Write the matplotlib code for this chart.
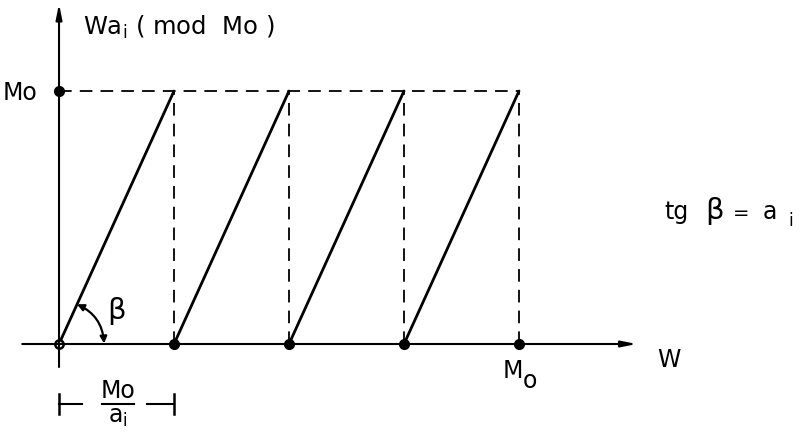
import matplotlib.pyplot as plt
from matplotlib.patches import FancyArrowPatch

# sawtooth W*a_i (mod Mo): Mo normalised to 1, a_i = 4
Mo = 1.0
a_i = 4.0
step = Mo / a_i
breaks = [0.0, 0.25, 0.50, 0.75, 1.00]     # multiples of Mo/a_i along W

fig = plt.figure(figsize=(7.99, 4.32), dpi=100)
ax = fig.add_axes([0, 0, 1, 1])
ax.set_xlim(-0.1283, 1.6087)
ax.set_ylim(-0.3478, 1.3597)
ax.axis('off')

ink = '#000000'
fs = 17

# axes with arrow heads
ax.annotate('', xy=(1.256, 0), xytext=(-0.080, 0),
            arrowprops=dict(arrowstyle='-|>,head_length=0.9,head_width=0.18',
                            color=ink, lw=1.5, shrinkA=0, shrinkB=0))
ax.annotate('', xy=(0, 1.345), xytext=(0, -0.091),
            arrowprops=dict(arrowstyle='-|>,head_length=0.9,head_width=0.18',
                            color=ink, lw=1.5, shrinkA=0, shrinkB=0))

# ramps and dashed guides
for k in range(len(breaks) - 1):
    ax.plot([breaks[k], breaks[k + 1]], [0, Mo], color=ink, lw=2.0,
            solid_capstyle='round')
    ax.plot([breaks[k + 1], breaks[k + 1]], [0, Mo], color=ink, lw=1.3,
            dashes=(7, 4.5))
ax.plot([breaks[0], breaks[-1]], [Mo, Mo], color=ink, lw=1.3, dashes=(7, 4.5))

# points
ax.plot(breaks[1:], [0] * (len(breaks) - 1), 'o', color=ink, ms=7)
ax.plot([0], [Mo], 'o', color=ink, ms=7)
ax.plot([0], [0], 'o', mfc='white', mec=ink, mew=1.8, ms=6)

# angle beta
arc = FancyArrowPatch((0.0391, 0.157), (0.098, 0.002),
                      connectionstyle='arc3,rad=-0.29',
                      arrowstyle='<|-|>,head_length=4,head_width=2',
                      color=ink, lw=1.6, shrinkA=0, shrinkB=0)
ax.add_patch(arc)
ax.text(0.126, 0.130, 'β', fontsize=21, ha='center', va='center')

# labels
ax.text(0.052, 1.221, r'W$\mathregular{a_i}$ ( mod  Mo )', fontsize=17.5,
        ha='left', va='baseline')
ax.text(-0.046, 0.964, 'Mo', fontsize=fs, ha='right', va='baseline')
ax.text(1.326, -0.091, 'W', fontsize=fs, ha='center', va='baseline')
ax.text(0.965, -0.134, 'M', fontsize=fs, ha='left', va='baseline')
ax.text(1.009, -0.174, 'o', fontsize=fs, ha='left', va='baseline')

# tg beta = a_i
yt = 0.496
ax.text(1.317, yt, 'tg', fontsize=fs, ha='left', va='baseline')
ax.text(1.404, yt, 'β', fontsize=21, ha='left', va='baseline')
ax.text(1.465, yt, '=', fontsize=14, ha='left', va='baseline')
ax.text(1.530, yt, 'a', fontsize=fs, ha='left', va='baseline')
ax.text(1.585, yt - 0.03, 'i', fontsize=12, ha='left', va='baseline')

# Mo/a_i bracket
yb = -0.237
ax.plot([0, 0.05], [yb, yb], color=ink, lw=1.5)
ax.plot([0.191, step], [yb, yb], color=ink, lw=1.5)
ax.plot([0, 0], [yb - 0.038, yb + 0.038], color=ink, lw=1.8)
ax.plot([step, step], [yb - 0.038, yb + 0.038], color=ink, lw=1.8)
ax.plot([0.094, 0.162], [yb, yb], color=ink, lw=1.5)
ax.text(0.128, -0.213, 'Mo', fontsize=fs, ha='center', va='baseline')
ax.text(0.128, -0.312, r'a$\mathregular{_i}$', fontsize=fs,
        ha='center', va='baseline')

fig.savefig('out.png', dpi=100)
